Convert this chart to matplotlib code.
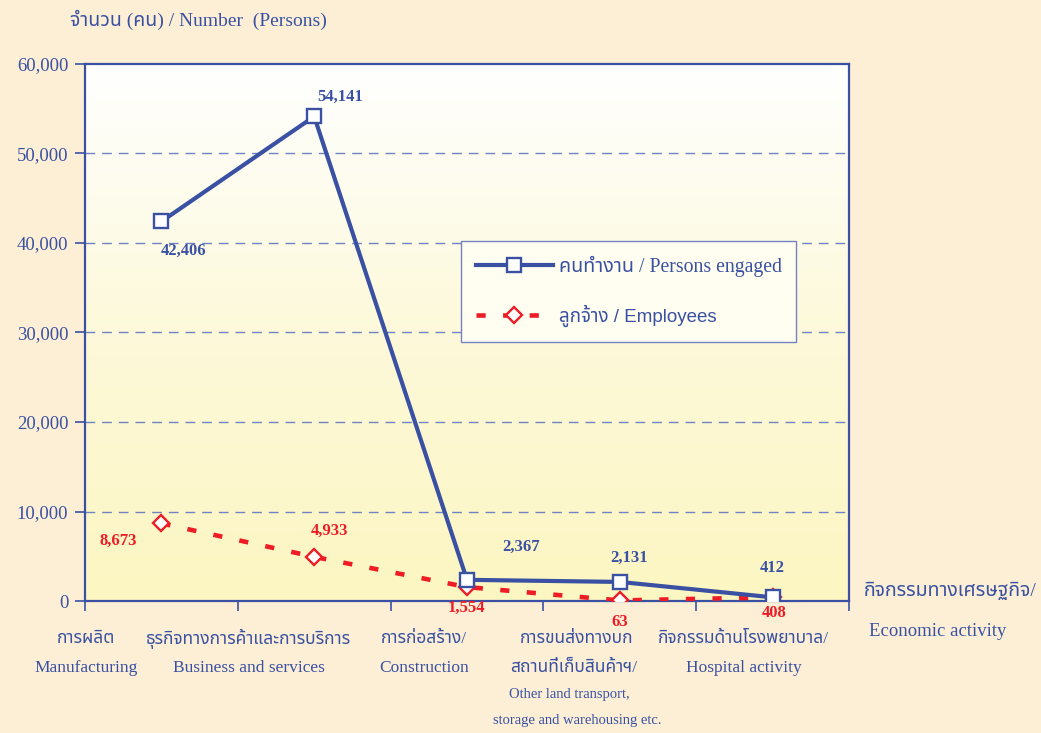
import numpy as np
import matplotlib
matplotlib.use("Agg")
import matplotlib.pyplot as plt
from matplotlib.lines import Line2D
from matplotlib.colors import LinearSegmentedColormap
from matplotlib.ticker import FuncFormatter

categories_th = ["การผลิต", "ธุรกิจทางการค้าและการบริการ", "การก่อสร้าง/",
                 "การขนส่งทางบก\nสถานที่เก็บสินค้าฯ/", "กิจกรรมด้านโรงพยาบาล/"]
categories_en = ["Manufacturing", "Business and services", "Construction",
                 "", "Hospital activity"]
persons_engaged = [42406, 54141, 2367, 2131, 412]
employees = [8673, 4933, 1554, 63, 408]
y_ticks = [0, 10000, 20000, 30000, 40000, 50000, 60000]

# label offsets in pixels (dx, dy) from each point
pe_offsets = [(22, -29), (26, 20), (54, 33), (9, 24), (0, 29)]
emp_offsets = [(-43, -17), (15, 26), (-1, -21), (0, -22), (2, -16)]

BLUE = "#3a51a3"
RED = "#ee1c25"
SERIF = ["Liberation Serif", "Noto Sans Thai"]
SANS = ["Liberation Sans", "Noto Sans Thai"]

plt.rcParams["font.family"] = SERIF

fig = plt.figure(figsize=(10.41, 7.33), dpi=100)
fig.patch.set_facecolor("#fcefd5")
ax = fig.add_axes([85 / 1041, 132 / 733, 764 / 1041, 537 / 733])

x = np.arange(len(persons_engaged))

# background gradient of the plot area
cmap = LinearSegmentedColormap.from_list("bg", ["#fcf6c2", "#fdf9da", "#ffffff"])
grad = np.linspace(0, 1, 256).reshape(-1, 1)
ax.imshow(grad, cmap=cmap, extent=[-0.5, 4.5, 0, 60000], aspect="auto",
          origin="lower", zorder=0)

for yv in y_ticks[1:-1]:
    ax.axhline(yv, color="#6f82c2", lw=1, ls=(0, (7, 5)), zorder=1)

ax.plot(x, persons_engaged, color=BLUE, lw=3, marker="s", ms=10,
        mfc="white", mec=BLUE, mew=1.7, zorder=4)
ax.plot(x, employees, color=RED, lw=3.3, ls=(0, (2, 3.8)), marker="D", ms=8,
        mfc="white", mec=RED, mew=1.7, zorder=3)

for xi, v, (dx, dy) in zip(x, persons_engaged, pe_offsets):
    ax.annotate(f"{v:,}", (xi, v), xytext=(dx, dy), textcoords="offset pixels",
                ha="center", va="center", color=BLUE, fontsize=12,
                fontweight="bold", zorder=5)
for xi, v, (dx, dy) in zip(x, employees, emp_offsets):
    ax.annotate(f"{v:,}", (xi, v), xytext=(dx, dy), textcoords="offset pixels",
                ha="center", va="center", color=RED, fontsize=12,
                fontweight="bold", zorder=5)

ax.set_xlim(-0.5, 4.5)
ax.set_ylim(0, 60000)
ax.set_xticks(np.arange(-0.5, 5, 1))
ax.set_xticklabels([])
ax.set_yticks(y_ticks)
ax.yaxis.set_major_formatter(FuncFormatter(lambda v, p: f"{int(v):,}"))
ax.tick_params(axis="both", color=BLUE, width=1.2, length=7, direction="out")
ax.tick_params(axis="y", labelcolor=BLUE, labelsize=13.5, pad=5)
for s in ax.spines.values():
    s.set_color(BLUE)
    s.set_linewidth(1.6)

# category labels under the axis
tr = ax.get_xaxis_transform()
label_x = [-0.49, 0.57, 1.72, 2.72, 3.81]
for lx, th, en in zip(label_x, categories_th, categories_en):
    if "\n" in th:
        l1, l2 = th.split("\n")
        ax.text(lx, -0.071, l1, transform=tr, ha="center", va="center",
                color=BLUE, fontsize=12.5)
        ax.text(lx - 0.02, -0.125, l2, transform=tr, ha="center", va="center",
                color=BLUE, fontsize=12.5)
        ax.text(lx - 0.05, -0.175, "Other land transport,", transform=tr,
                ha="center", va="center", color=BLUE, fontsize=10.5)
        ax.text(lx, -0.222, "storage and warehousing etc.", transform=tr,
                ha="center", va="center", color=BLUE, fontsize=10.5)
    else:
        ax.text(lx, -0.071, th, transform=tr, ha="center", va="center",
                color=BLUE, fontsize=12.5)
        ax.text(lx, -0.125, en, transform=tr, ha="center", va="center",
                color=BLUE, fontsize=12.5)

fig.text(70 / 1041, 1 - 20 / 733, "จำนวน (คน) / Number  (Persons)", ha="left",
         va="center", color=BLUE, fontsize=14)
fig.text(950 / 1041, 1 - 591 / 733, "กิจกรรมทางเศรษฐกิจ/", ha="center",
         va="center", color=BLUE, fontsize=14)
fig.text(938 / 1041, 1 - 632 / 733, "Economic activity", ha="center",
         va="center", color=BLUE, fontsize=13.5)

handles = [
    Line2D([], [], color=BLUE, lw=3, marker="s", ms=10, mfc="white",
           mec=BLUE, mew=1.7),
    Line2D([], [], color=RED, lw=3.3, ls=(0, (2, 3.8)), marker="D", ms=8,
           mfc="white", mec=RED, mew=1.7),
]
leg = ax.legend(handles, ["คนทำงาน / Persons engaged", "ลูกจ้าง / Employees"],
                loc="upper left", bbox_to_anchor=(0.492, 0.670),
                borderaxespad=0, fontsize=14.2, handlelength=3.9,
                handletextpad=0.3, borderpad=0.75, labelspacing=1.4,
                fancybox=False, framealpha=1, facecolor="#fffef0",
                edgecolor="#7383c2")
leg.get_frame().set_linewidth(1.0)
for t in leg.get_texts():
    t.set_color(BLUE)
leg.get_texts()[1].set_family(SANS)
leg.get_texts()[1].set_fontsize(13.5)

fig.savefig("out.png", dpi=100, facecolor=fig.get_facecolor())
